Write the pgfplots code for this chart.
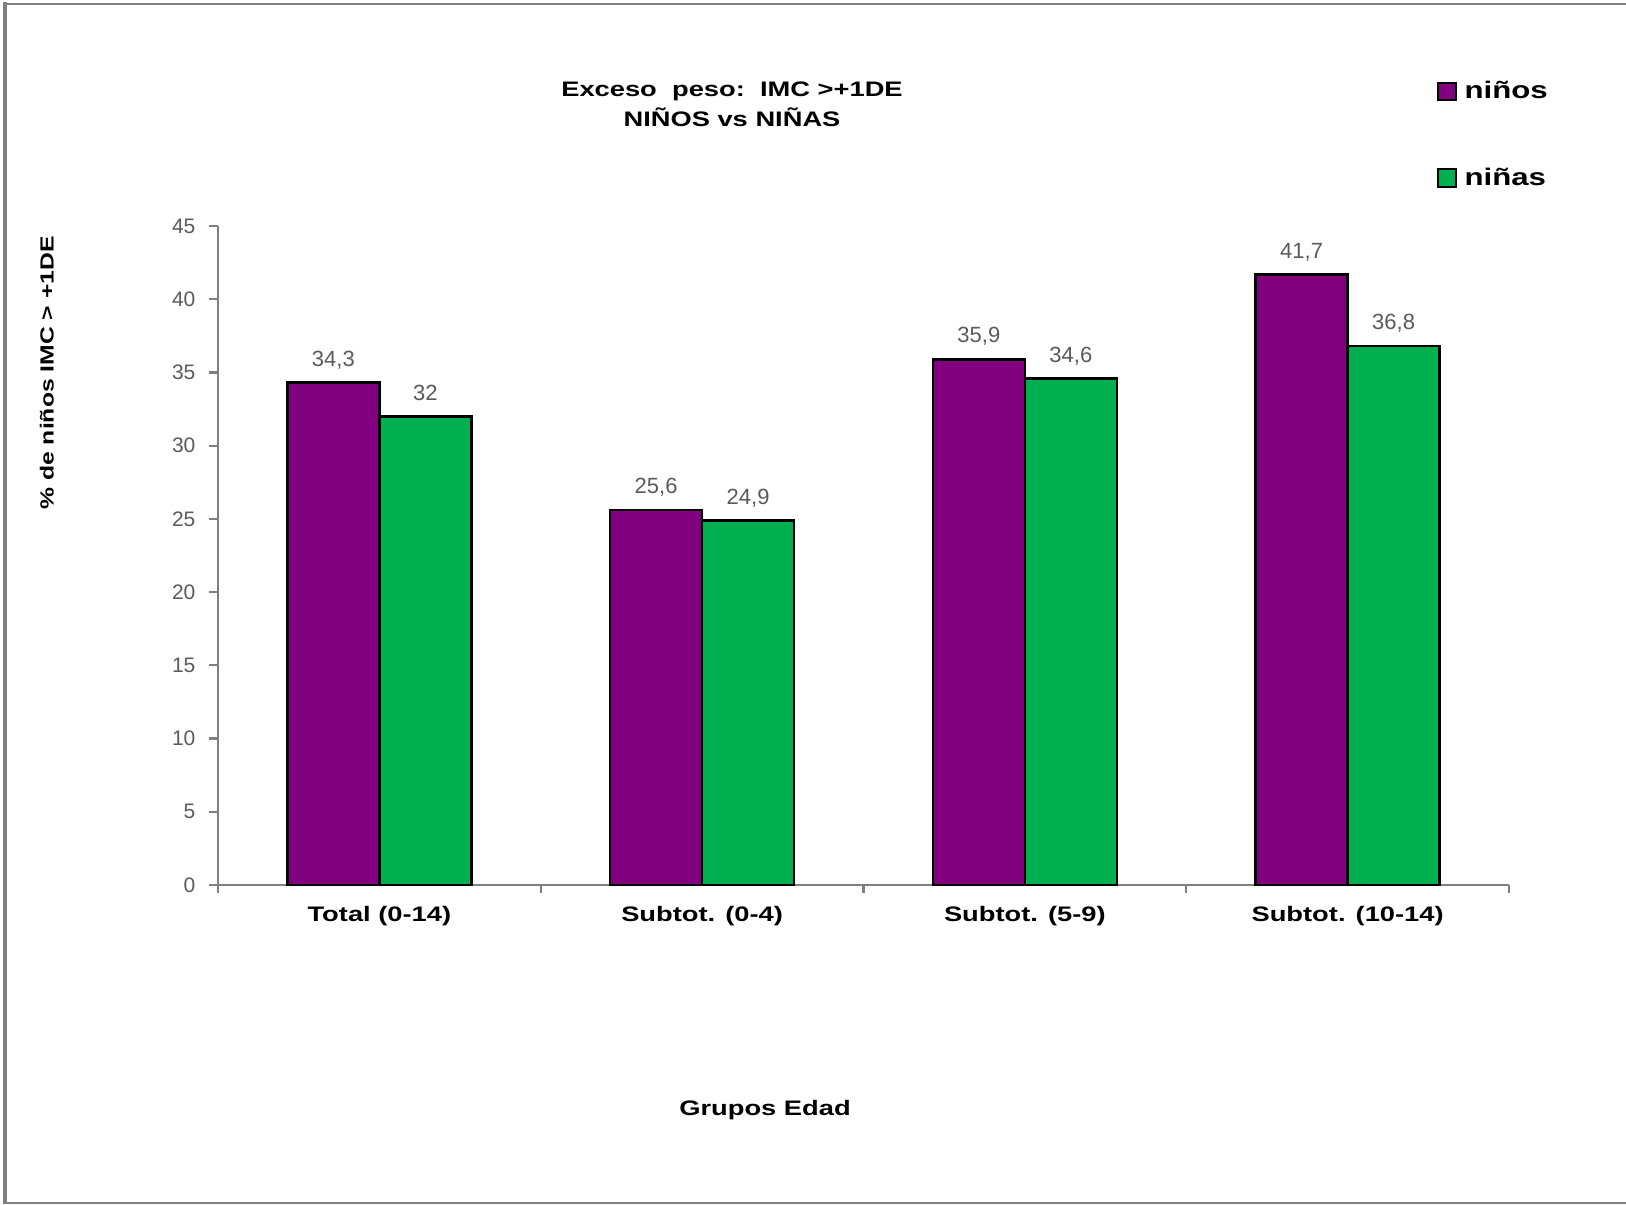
\documentclass[border=0pt]{standalone}
\usepackage{pgfplots}
\pgfplotsset{compat=1.18}
\usepackage{fontspec}
\setmainfont{Liberation Sans}
% wide bold face, like the screen-rendered labels
\newfontfamily\widesans[FakeStretch=1.3]{Liberation Sans}

\definecolor{ninos}{RGB}{128,0,128}
\definecolor{ninas}{RGB}{0,176,80}
\definecolor{framegray}{RGB}{128,128,128}
\definecolor{numgray}{RGB}{90,90,90}

\begin{document}
\begin{tikzpicture}[x=1pt,y=1pt]
\useasboundingbox (0,0) rectangle (813,602);
% outer frame (left, top, bottom)
\draw[framegray, line width=1pt] (813,600.2) -- (2.35,600.2);
\draw[framegray, line width=1pt] (2.35,0.45) -- (813,0.45);
\draw[framegray, line width=2pt] (2.35,601) -- (2.35,0);

\begin{axis}[
  at={(109pt,159.5pt)}, anchor=south west,
  scale only axis, width=645.5pt, height=329.5pt,
  ybar=0pt, bar width=46pt,
  xmin=-0.5, xmax=3.5, ymin=0, ymax=45,
  xtick={0,1,2,3},
  xticklabels={Total (0-14), Subtot. (0-4), Subtot. (5-9), Subtot. (10-14)},
  minor xtick={-0.5,0.5,1.5,2.5,3.5},
  major x tick style={draw=none},
  ytick={0,5,...,45},
  tick align=outside,
  axis lines*=left,
  axis line style={framegray, line width=1.1pt},
  every tick/.style={framegray, line width=1.1pt},
  major tick length=4.5pt, minor tick length=4pt,
  /pgf/number format/assume math mode=true,
  /pgf/number format/use comma,
  yticklabel style={font=\fontsize{10.5}{12}\selectfont, text=numgray, anchor=east, inner sep=0pt, xshift=-6.6pt},
  xticklabel style={font=\widesans\bfseries\fontsize{10.5}{12}\selectfont, text=black, anchor=base, inner sep=0pt, yshift=-13.9pt},
  nodes near coords,
  nodes near coords style={font=\fontsize{11}{12}\selectfont, text=numgray,
    anchor=south, inner sep=0pt, text height=7.9pt, text depth=0pt, yshift=7.5pt},
  clip=false,
  ylabel={\% de niños IMC > +1DE},
  ylabel style={font=\widesans\bfseries\fontsize{9.5}{11}\selectfont,
    at={(axis description cs:-0.1325,0.777)}, anchor=center},
  xlabel={Grupos Edad},
  xlabel style={font=\widesans\bfseries\fontsize{10.5}{12}\selectfont,
    at={(axis description cs:0.4237,-0.3416)}, anchor=center},
  legend style={draw=none, fill=none, at={(axis description cs:0.9442,1.22)},
    anchor=north west, inner sep=0pt, row sep=33pt,
    font=\widesans\bfseries\fontsize{12}{14}\selectfont,
    nodes={inner sep=0pt}},
  legend cell align=left,
  legend image code/.code={\draw[#1, draw=black, line width=1pt] (0pt,-4.3pt) rectangle (8.6pt,4.3pt);},
  /tikz/every odd column/.append style={column sep=4pt},
]
\addplot[fill=ninos, draw=black, line width=1.3pt] coordinates {(0,34.3) (1,25.6) (2,35.9) (3,41.7)};
\addplot[fill=ninas, draw=black, line width=1.3pt] coordinates {(0,32) (1,24.9) (2,34.6) (3,36.8)};
\legend{niños, niñas}
\end{axis}

\node[align=center, font=\widesans\bfseries\fontsize{10.5}{15}\selectfont] at (366,549.8)
  {Exceso\ \ peso:\ \ IMC >+1DE\\NIÑOS vs NIÑAS};
\end{tikzpicture}
\end{document}
